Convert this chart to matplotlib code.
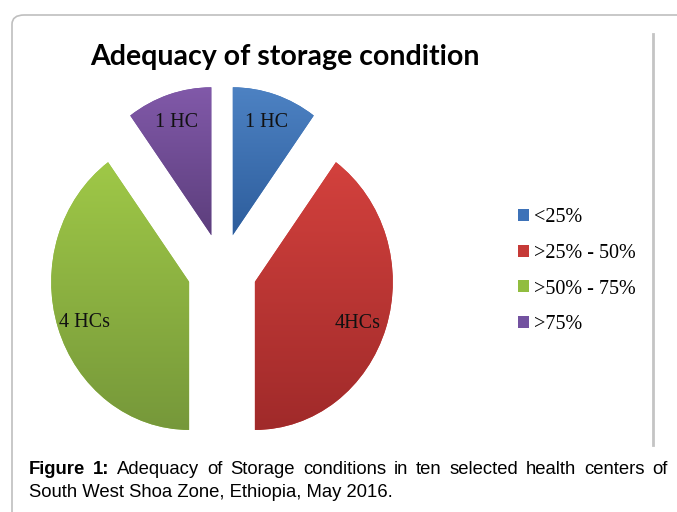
import numpy as np
import matplotlib.pyplot as plt
from matplotlib.colors import LinearSegmentedColormap
from matplotlib.patches import FancyBboxPatch, Patch
from matplotlib.lines import Line2D

# data
categories = ['<25%', '>25% - 50%', '>50% - 75%', '>75%']
counts = [1, 4, 4, 1]
slice_labels = ['1 HC', '4HCs', '4 HCs', '1 HC']
title = 'Adequacy of storage condition'
caption_bold = 'Figure 1:'
caption_line1 = 'Adequacy of Storage conditions in ten selected health centers of'
caption_line2 = 'South West Shoa Zone, Ethiopia, May 2016.'

# styles
top_colors = ['#4d82c3', '#d3413d', '#9fc847', '#8159a9']
bottom_colors = ['#2d5d9c', '#a02a2a', '#76983a', '#5c3e7c']
legend_colors = ['#3d72b8', '#c63a37', '#91bd3f', '#7352a0']
label_x = [0.32, 0.98, -1.0, -0.33]
label_y = [1.0, -0.36, -0.35, 1.0]

W, H = 677, 512
fig = plt.figure(figsize=(W / 100, H / 100), dpi=100)

# outer rounded frame (runs off the right and bottom edges)
frame = FancyBboxPatch((12 / W, -0.2), 1.2, 1 - 15 / H + 0.2,
                       boxstyle='round,pad=0,rounding_size=0.018',
                       transform=fig.transFigure, facecolor='none',
                       edgecolor='#bfbfbf', linewidth=1.2, clip_on=False)
fig.add_artist(frame)

# vertical divider on the right
fig.add_artist(Line2D([653 / W, 653 / W], [1 - 34 / H, 1 - 445 / H],
                      transform=fig.transFigure, color='#c4c4c4', linewidth=2))

# title
fig.text(285 / W, 1 - 57 / H, title, ha='center', va='center',
         fontsize=20.5, fontweight='bold', family=['Lato', 'DejaVu Sans'])

# pie axes: slightly taller than wide, as in the original
rx, ry = 138, 148
cx, cy = 222, 241.5
ax = fig.add_axes([(cx - 1.3 * rx) / W, (cy - 1.35 * ry) / H,
                   2.6 * rx / W, 2.7 * ry / H])
wedges, _ = ax.pie(counts, colors=legend_colors, startangle=90, counterclock=False,
                   explode=[0.25] * 4, wedgeprops=dict(linewidth=0))

# vertical gradient fill on each wedge
grad = np.linspace(0, 1, 256).reshape(-1, 1)
for w, c_top, c_bot in zip(wedges, top_colors, bottom_colors):
    ext = w.get_path().get_extents()
    cmap = LinearSegmentedColormap.from_list('g', [c_bot, c_top])
    im = ax.imshow(grad, cmap=cmap, origin='lower', aspect='auto', zorder=2,
                   extent=(ext.x0, ext.x1, ext.y0, ext.y1), interpolation='bilinear')
    im.set_clip_path(w)

ax.set_aspect('auto')
ax.set_xlim(-1.3, 1.3)
ax.set_ylim(-1.35, 1.35)
ax.axis('off')

for lbl, x, y in zip(slice_labels, label_x, label_y):
    ax.text(x, y, lbl, ha='center', va='center', fontsize=14.5, zorder=3,
            family='Liberation Serif', color='#111111')

# legend
handles = [Patch(facecolor=c, edgecolor='none') for c in legend_colors]
fig.legend(handles, categories, loc='upper left', bbox_to_anchor=(508 / W, 1 - 198 / H),
           frameon=False, prop=dict(family='Liberation Serif', size=14.5),
           handlelength=0.55, handleheight=0.55, handletextpad=0.25,
           labelspacing=0.83, borderpad=0)

# caption, first line justified between the margins
cap_font = dict(family='Liberation Sans', fontsize=13.3)
renderer = fig.canvas.get_renderer()
words = [(w, 'bold') for w in caption_bold.split()] + [(w, 'normal') for w in caption_line1.split()]
texts = [fig.text(0, 1 - 474 / H, w, fontweight=fw, va='baseline', **cap_font) for w, fw in words]
widths = [t.get_window_extent(renderer).width for t in texts]
x_left, x_right = 29, 668
gap = (x_right - x_left - sum(widths)) / (len(texts) - 1)
x = x_left
for t, wd in zip(texts, widths):
    t.set_x(x / W)
    x += wd + gap
fig.text(x_left / W, 1 - 497 / H, caption_line2, va='baseline', **cap_font)

fig.savefig('out.png', dpi=100)
